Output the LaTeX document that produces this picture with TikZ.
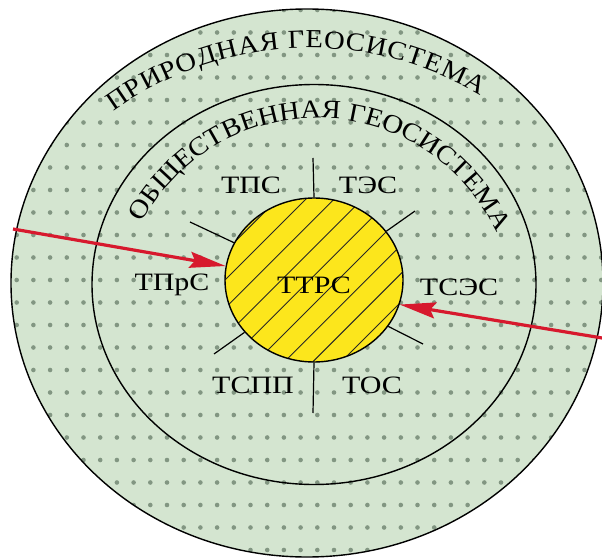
\documentclass[tikz,border=0pt]{standalone}
\usepackage{fontspec}
\setmainfont{Liberation Serif}
\newfontfamily\wide[FakeStretch=1.2]{Liberation Serif}
\newfontfamily\arcfont[FakeStretch=1.1]{Liberation Serif}
\usetikzlibrary{arrows.meta,shapes.geometric,decorations.text}
\definecolor{bggreen}{RGB}{212,229,208}
\definecolor{dotgrey}{RGB}{130,150,130}
\definecolor{coreyellow}{RGB}{252,230,28}
\definecolor{arrowred}{RGB}{215,25,45}
\newcommand\curvefont{\arcfont\fontsize{26}{26}\selectfont}
\tikzset{
  lbl/.style={font=\wide\fontsize{25}{25}\selectfont, inner sep=0pt, text height=16.5pt, text depth=0pt},
  ring/.style={draw=black, line width=1.4pt},
  tickline/.style={line width=1.2pt},
  hatchline/.style={line width=0.9pt, black!85},
  flow/.style={draw=arrowred, line width=3.2pt, -{Stealth[length=36pt,width=16pt,inset=5pt]}},
  core/.style={draw=black, line width=1.4pt, ellipse, minimum width=178pt, minimum height=164pt, inner sep=0pt,
    font=\wide\fontsize{25}{25}\selectfont, text height=27pt, text depth=0pt},
}
\begin{document}
\begin{tikzpicture}[x=1pt,y=1pt]
\useasboundingbox (0,0) rectangle (602,558);
% outer area
\fill[bggreen] (307,275) ellipse[x radius=296, y radius=274];
\begin{scope}
  \clip (307,275) ellipse[x radius=296, y radius=274];
  \foreach \k in {0,...,24} {
    \foreach \j in {0,...,36} {
      \fill[dotgrey] ({16.7*\j},{548-22.5*\k}) circle[radius=2.3];
    }
  }
\end{scope}
\draw[ring] (307,275) ellipse[x radius=296, y radius=274];
\draw[ring] (314,273.5) ellipse[x radius=222, y radius=200];
% core
\fill[coreyellow] (314,278) ellipse[x radius=89, y radius=82];
\begin{scope}
  \clip (314,278) ellipse[x radius=89, y radius=82];
  \foreach \k in {-6,...,6} {
    \draw[hatchline] ({314+(20*\k-3)*0.7071-84.85},{278-(20*\k-3)*0.7071-84.85}) -- ++(170,170);
  }
\end{scope}
\node[core] (core) at (314,278) {ТТРС};
% ticks
\coordinate (tn) at (313,400);
\coordinate (ts) at (313,145);
\coordinate (tnw) at (190,336);
\coordinate (tne) at (415,347);
\coordinate (tsw) at (214,204);
\coordinate (tse) at (423,214);
\draw[tickline] (core.90) -- (tn);
\draw[tickline] (core.270) -- (ts);
\draw[tickline] (core.155) -- (tnw);
\draw[tickline] (core.34) -- (tne);
\draw[tickline] (core.217) -- (tsw);
\draw[tickline] (core.-32) -- (tse);
% labels
\node[lbl] (tps) at (251,373) {ТПС};
\node[lbl] (tes) at (368,373) {ТЭС};
\node[lbl] (tprs) at (172,276) {ТПрС};
\node[lbl] (tses) at (459,271) {ТСЭС};
\node[lbl] (tspp) at (253,173) {ТСПП};
\node[lbl] (tos) at (372,173) {ТОС};
% curved titles
\path[decorate, decoration={text along path, text={|\curvefont|ПРИРОДНАЯ ГЕОСИСТЕМА}, text align={fit to path}}]
  (309,177) ++(126:333) arc[start angle=126, end angle=59, radius=333];
\path[decorate, decoration={text along path, text={|\curvefont|ОБЩЕСТВЕННАЯ ГЕОСИСТЕМА}, text align={fit to path}}]
  (317,242) ++(152:198) arc[start angle=152, end angle=27, radius=198];
% arrows
\coordinate (inL) at (13,329);
\coordinate (inR) at (604,219.7);
\draw[flow] (inL) -- (core.171);
\draw[flow] (inR) -- (core.-16);
\end{tikzpicture}
\end{document}
